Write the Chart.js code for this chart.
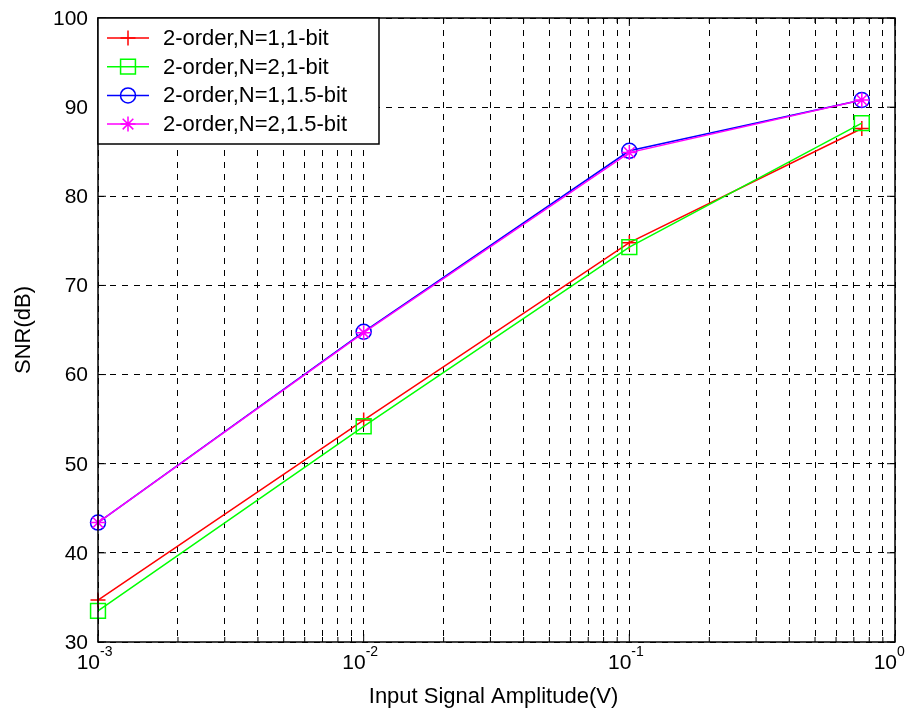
<!DOCTYPE html>
<html>
<head>
<meta charset="utf-8">
<title>SNR vs input amplitude</title>
<script src="https://cdn.jsdelivr.net/npm/chart.js@4.4.0/dist/chart.umd.min.js"></script>
<style>
  body { margin: 0; background: #fff; }
  #wrap { width: 907px; height: 722px; }
</style>
</head>
<body>
<div id="wrap"><canvas id="snrChart" width="907" height="722"></canvas></div>
<script>
// input amplitudes (V)
const amplitudes = [0.001, 0.01, 0.1, 0.75];

// SNR (dB) per configuration
const snrN1Bit1 = [34.7, 54.9, 74.8, 87.6];
const snrN2Bit1 = [33.5, 54.2, 74.3, 88.2];
const snrN1Bit15 = [43.4, 64.8, 85.1, 90.8];
const snrN2Bit15 = [43.4, 64.7, 84.9, 90.8];

const seriesLabels = [
    '2-order,N=1,1-bit',
    '2-order,N=2,1-bit',
    '2-order,N=1,1.5-bit',
    '2-order,N=2,1.5-bit'
];

// axis ticks
const xDecades = [0.001, 0.01, 0.1, 1];
const xExponents = ['-3', '-2', '-1', '0'];
const yTicks = [30, 40, 50, 60, 70, 80, 90, 100];

const FONT = '"Liberation Sans", Arial, sans-serif';

// log grid: 1..9 in every decade
const xGridValues = [];
xDecades.forEach((d, i) => {
    if (i === xDecades.length - 1) { xGridValues.push(d); return; }
    for (let k = 1; k <= 9; k++) xGridValues.push(+(d * k).toPrecision(3));
});

function toPoints(values) {
    return amplitudes.map((a, i) => ({ x: a, y: values[i] }));
}

const styles = [
    { color: '#ff0000', point: 'cross', radius: 7.5 },
    { color: '#00ff00', point: 'rect', radius: 10.5 },
    { color: '#0000ff', point: 'circle', radius: 7.5 },
    { color: '#ff00ff', point: 'star', radius: 7.5 }
];
const seriesValues = [snrN1Bit1, snrN2Bit1, snrN1Bit15, snrN2Bit15];

const datasets = seriesValues.map((vals, i) => ({
    label: seriesLabels[i],
    data: toPoints(vals),
    borderColor: styles[i].color,
    backgroundColor: 'rgba(0,0,0,0)',
    pointBorderColor: styles[i].color,
    pointBackgroundColor: 'rgba(0,0,0,0)',
    pointStyle: styles[i].point,
    pointRadius: styles[i].radius,
    pointBorderWidth: 1.5,
    borderWidth: 1.5,
    tension: 0,
    clip: false,
    order: seriesValues.length - i // later series drawn on top
}));

// small marker drawer for the legend
function drawMarker(ctx, style, x, y, r) {
    ctx.beginPath();
    if (style === 'cross') {
        ctx.moveTo(x - r, y); ctx.lineTo(x + r, y);
        ctx.moveTo(x, y - r); ctx.lineTo(x, y + r);
    } else if (style === 'rect') {
        const s = r * Math.SQRT1_2;
        ctx.rect(x - s, y - s, 2 * s, 2 * s);
    } else if (style === 'circle') {
        ctx.arc(x, y, r, 0, Math.PI * 2);
    } else if (style === 'star') {
        const d = r * Math.SQRT1_2;
        ctx.moveTo(x - r, y); ctx.lineTo(x + r, y);
        ctx.moveTo(x, y - r); ctx.lineTo(x, y + r);
        ctx.moveTo(x - d, y - d); ctx.lineTo(x + d, y + d);
        ctx.moveTo(x - d, y + d); ctx.lineTo(x + d, y - d);
    }
    ctx.stroke();
}

const matlabFrame = {
    id: 'matlabFrame',
    afterDatasetsDraw(chart) {
        const { ctx, chartArea: a, scales } = chart;
        ctx.save();

        // axes box
        ctx.strokeStyle = '#000';
        ctx.lineWidth = 1.5;
        ctx.setLineDash([]);
        ctx.strokeRect(a.left, a.top, a.right - a.left, a.bottom - a.top);

        // inner tick marks
        ctx.lineWidth = 1;
        ctx.beginPath();
        xGridValues.forEach(v => {
            const px = scales.x.getPixelForValue(v);
            const len = xDecades.includes(v) ? 8 : 5;
            ctx.moveTo(px, a.bottom); ctx.lineTo(px, a.bottom - len);
            ctx.moveTo(px, a.top); ctx.lineTo(px, a.top + len);
        });
        yTicks.forEach(v => {
            const py = scales.y.getPixelForValue(v);
            ctx.moveTo(a.left, py); ctx.lineTo(a.left + 8, py);
            ctx.moveTo(a.right, py); ctx.lineTo(a.right - 8, py);
        });
        ctx.stroke();

        // y tick labels
        ctx.fillStyle = '#000';
        ctx.font = '21px ' + FONT;
        ctx.textAlign = 'right';
        ctx.textBaseline = 'middle';
        yTicks.forEach(v => {
            ctx.fillText(String(v), a.left - 10, scales.y.getPixelForValue(v) + 1);
        });

        // x tick labels as 10^n, base ends at the tick
        ctx.textBaseline = 'alphabetic';
        xDecades.forEach((v, i) => {
            const px = scales.x.getPixelForValue(v);
            ctx.font = '21px ' + FONT;
            ctx.textAlign = 'right';
            ctx.fillText('10', px + 2, a.bottom + 27);
            ctx.font = '14px ' + FONT;
            ctx.textAlign = 'left';
            ctx.fillText(xExponents[i], px + 2, a.bottom + 14);
        });

        // axis titles
        ctx.font = '22px ' + FONT;
        ctx.textAlign = 'center';
        ctx.textBaseline = 'middle';
        ctx.fillText('Input Signal Amplitude(V)', (a.left + a.right) / 2 - 3, 697);
        ctx.save();
        ctx.translate(24, (a.top + a.bottom) / 2);
        ctx.rotate(-Math.PI / 2);
        ctx.fillText('SNR(dB)', 0, 0);
        ctx.restore();

        // legend box
        const lx = a.left, ly = a.top, lw = 281, lh = 126;
        ctx.fillStyle = '#fff';
        ctx.fillRect(lx, ly, lw, lh);
        ctx.strokeStyle = '#000';
        ctx.lineWidth = 1.5;
        ctx.strokeRect(lx, ly, lw, lh);

        ctx.font = '22px ' + FONT;
        ctx.textAlign = 'left';
        ctx.textBaseline = 'middle';
        seriesLabels.forEach((label, i) => {
            const y = ly + 20 + i * 28.7;
            const st = styles[i];
            ctx.strokeStyle = st.color;
            ctx.lineWidth = 1.5;
            ctx.beginPath();
            ctx.moveTo(lx + 9, y); ctx.lineTo(lx + 51, y);
            ctx.stroke();
            drawMarker(ctx, st.point, lx + 30, y, st.radius);
            ctx.fillStyle = '#000';
            ctx.fillText(label, lx + 65, y + 1);
        });

        ctx.restore();
    }
};

new Chart(document.getElementById('snrChart'), {
    type: 'line',
    data: { datasets: datasets },
    options: {
        responsive: false,
        animation: false,
        layout: { padding: { top: 18, right: 11, left: 0, bottom: 0 } },
        plugins: {
            legend: { display: false },
            tooltip: { enabled: false }
        },
        scales: {
            x: {
                type: 'logarithmic',
                min: 0.001,
                max: 1,
                afterBuildTicks: scale => {
                    scale.ticks = xGridValues.map(v => ({ value: v }));
                },
                afterFit: scale => { scale.height = 80; },
                ticks: { display: false, autoSkip: false },
                grid: { color: '#000', lineWidth: 1, drawTicks: false },
                border: { display: false, dash: [6, 6] }
            },
            y: {
                min: 30,
                max: 100,
                afterBuildTicks: scale => {
                    scale.ticks = yTicks.map(v => ({ value: v }));
                },
                afterFit: scale => { scale.width = 98; },
                ticks: { display: false },
                grid: { color: '#000', lineWidth: 1, drawTicks: false },
                border: { display: false, dash: [6, 6] }
            }
        }
    },
    plugins: [matlabFrame]
});
</script>
</body>
</html>
